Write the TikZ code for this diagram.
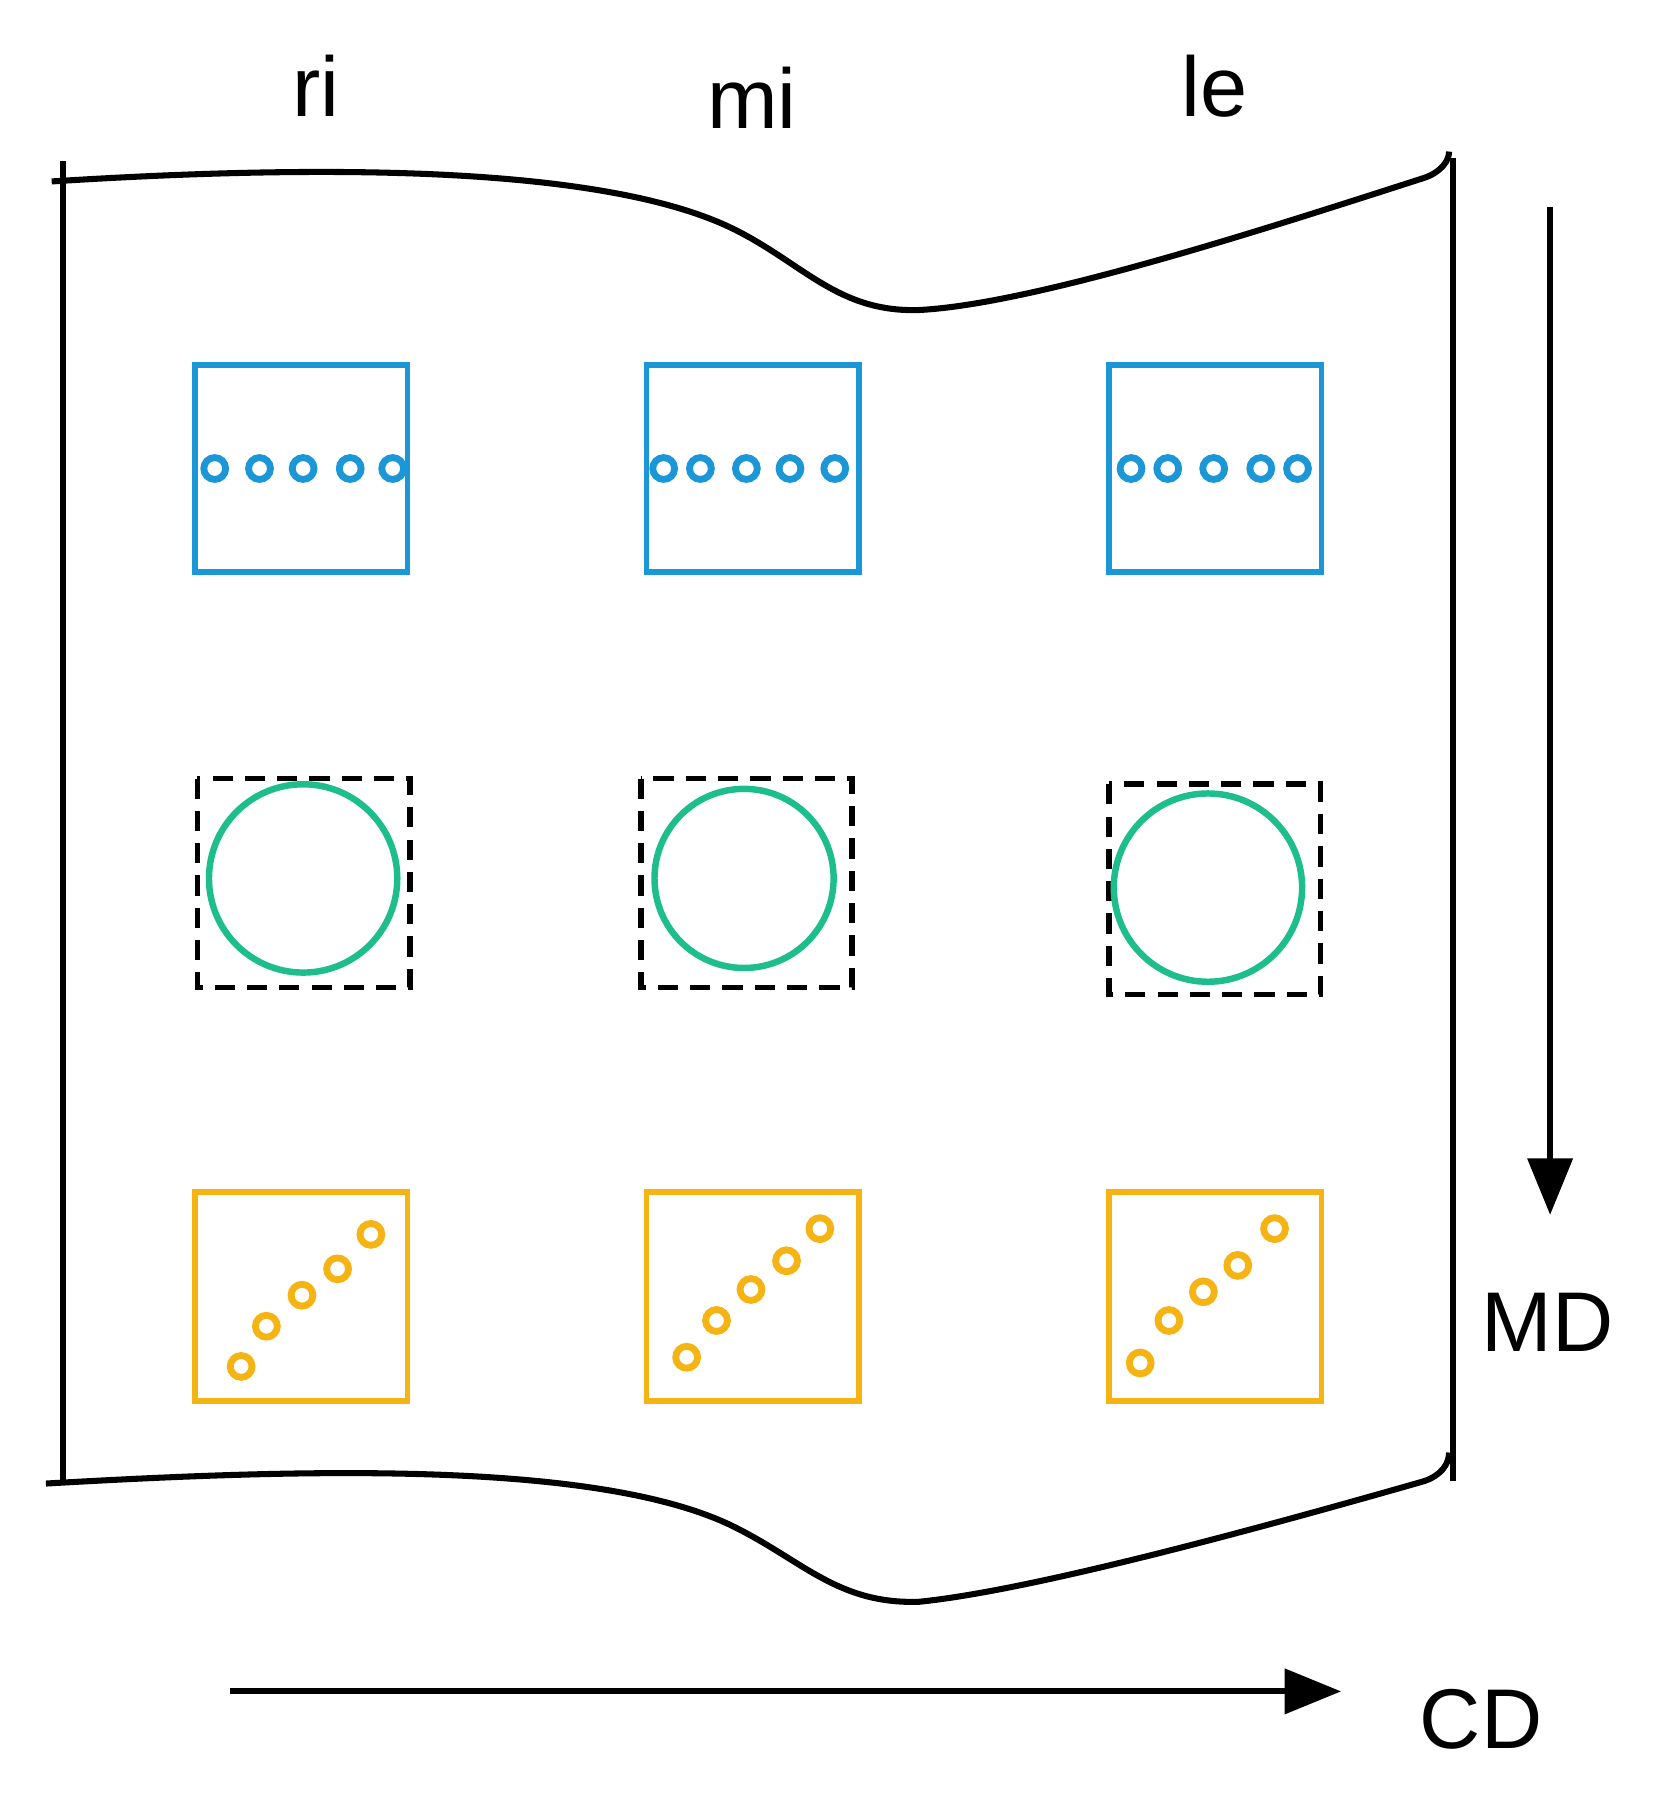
\documentclass[tikz,border=0pt]{standalone}
\usepackage{fontspec}
\setmainfont{Liberation Sans}
\usetikzlibrary{arrows.meta}
\definecolor{bl}{RGB}{27,150,215}
\definecolor{gr}{RGB}{30,190,140}
\definecolor{og}{RGB}{245,180,20}
\begin{document}
\begin{tikzpicture}[x=0.01cm,y=-0.01cm,
  edge/.style={line width=1.5pt,black},
  lab/.style={font=\fontsize{21}{24}\selectfont},
  bbox/.style={draw=bl,line width=1.4pt},
  obox/.style={draw=og,line width=1.4pt},
  dbox/.style={draw=black,line width=1.4pt,dash pattern=on 5pt off 3pt},
  dot/.style={line width=1.7pt,radius=9.5}]
\useasboundingbox (0,0) rectangle (1445,1565);
% sheet
\draw[edge] (55,140) -- (55,1290);
\draw[edge] (1265,138) -- (1265,1290);
\draw[edge] (45,158) .. controls (250,145) and (520,140) .. (640,200) .. controls (700,230) and (730,272) .. (800,270) .. controls (900,265) and (1100,200) .. (1240,155) .. controls (1255,150) and (1262,140) .. (1262,132);
\draw[edge] (40,1292) .. controls (250,1280) and (520,1270) .. (640,1330) .. controls (700,1360) and (730,1397) .. (800,1395) .. controls (900,1385) and (1100,1330) .. (1240,1290) .. controls (1255,1285) and (1262,1275) .. (1262,1265);
% labels
\node[lab] (ri) at (275,75) {ri};
\node[lab] (mi) at (655,85) {mi};
\node[lab] (le) at (1058,75) {le};
\node[lab] (md) at (1348,1152) {MD};
\node[lab] (cd) at (1290,1497) {CD};
\coordinate (mda) at (1350,180); \coordinate (mdb) at (1350,1058);
\coordinate (cda) at (200,1473); \coordinate (cdb) at (1168,1473);
\draw[edge,-{Triangle[length=14pt,width=11pt]}] (mda) -- (mdb);
\draw[edge,-{Triangle[length=14pt,width=11pt]}] (cda) -- (cdb);
% blue
\foreach \x in {170,563,966}{
  \draw[bbox] (\x,318) rectangle ++(185,180);
}
\foreach \x in {187,226,264,305,342, 578,610,650,688,727, 985,1017,1057,1098,1130}
  \draw[bl,dot] (\x,408) circle;
% green
\draw[dbox] (172,678) rectangle (357,860);
\draw[dbox] (558,678) rectangle (742,860);
\draw[dbox] (966,683) rectangle (1150,866);
\draw[gr,line width=1.6pt] (264,765) circle (82);
\draw[gr,line width=1.6pt] (648,765) circle (78);
\draw[gr,line width=1.6pt] (1052,773) circle (82);
% orange
\foreach \x in {170,563,966}{
  \draw[obox] (\x,1038) rectangle ++(185,182);
}
\foreach \p in {(210,1190),(232,1155),(263,1128),(294,1105),(323,1075),
               (598,1182),(624,1150),(654,1123),(685,1098),(714,1070),
               (993,1187),(1018,1150),(1048,1125),(1078,1102),(1110,1070)}
  \draw[og,dot] \p circle;
\end{tikzpicture}
\end{document}
